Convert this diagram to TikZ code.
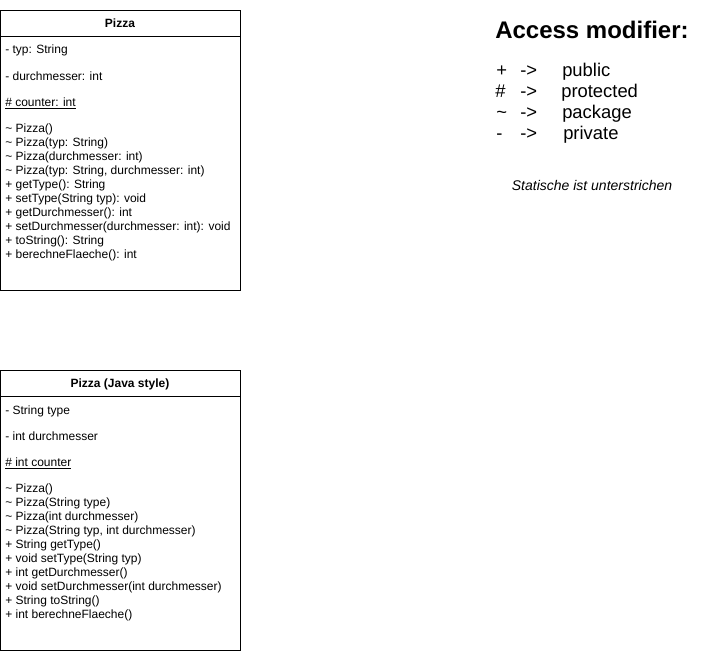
\documentclass[tikz,border=0pt]{standalone}
\usepackage{fontspec}
\setmainfont{Liberation Sans}
\begin{document}
\begin{tikzpicture}[x=0.75pt,y=-0.75pt,
                    classBX/.style={draw=black,
                                    line width=0.75pt},
                    memND/.style={anchor=base west,
                                  inner sep=0pt,
                                  font=\fontsize{9}{11}\selectfont},
                    headND/.style={anchor=base,
                                   inner sep=0pt,
                                   font=\fontsize{9}{11}\selectfont\bfseries},
                    keyND/.style={anchor=base west,
                                  inner sep=0pt,
                                  font=\fontsize{13.8}{16}\selectfont}]
                \useasboundingbox (0,0) rectangle (701,653);
                % class Pizza
                \draw[classBX] (0.5,10) rectangle (240,290);
                \draw[classBX] (0.5,36) -- (240,36);
                \node[headND](pHead) at (120,27.5) {Pizza};
                \node[memND](pTyp) at (5,54)  {- typ: String};
                \node[memND](pDm)  at (5,80)  {- durchmesser: int};
                \node[memND](pCnt) at (5,106) {\underline{\# counter: int}};
                \node[memND](pM1)  at (5,132) {\textasciitilde{} Pizza()};
                \node[memND](pM2)  at (5,146) {\textasciitilde{} Pizza(typ: String)};
                \node[memND](pM3)  at (5,160) {\textasciitilde{} Pizza(durchmesser: int)};
                \node[memND](pM4)  at (5,174) {\textasciitilde{} Pizza(typ: String, durchmesser: int)};
                \node[memND](pM5)  at (5,188) {+ getType(): String};
                \node[memND](pM6)  at (5,202) {+ setType(String typ): void};
                \node[memND](pM7)  at (5,216) {+ getDurchmesser(): int};
                \node[memND](pM8)  at (5,230) {+ setDurchmesser(durchmesser: int): void};
                \node[memND](pM9)  at (5,244) {+ toString(): String};
                \node[memND](pM10) at (5,258) {+ berechneFlaeche(): int};
                % class Pizza (Java style)
                \draw[classBX] (0.5,370) rectangle (240,650);
                \draw[classBX] (0.5,396) -- (240,396);
                \node[headND](jHead) at (120,387.5) {Pizza (Java style)};
                \node[memND](jTyp) at (5,414) {- String type};
                \node[memND](jDm)  at (5,440) {- int durchmesser};
                \node[memND](jCnt) at (5,466) {\underline{\# int counter}};
                \node[memND](jM1)  at (5,492) {\textasciitilde{} Pizza()};
                \node[memND](jM2)  at (5,506) {\textasciitilde{} Pizza(String type)};
                \node[memND](jM3)  at (5,520) {\textasciitilde{} Pizza(int durchmesser)};
                \node[memND](jM4)  at (5,534) {\textasciitilde{} Pizza(String typ, int durchmesser)};
                \node[memND](jM5)  at (5,548) {+ String getType()};
                \node[memND](jM6)  at (5,562) {+ void setType(String typ)};
                \node[memND](jM7)  at (5,576) {+ int getDurchmesser()};
                \node[memND](jM8)  at (5,590) {+ void setDurchmesser(int durchmesser)};
                \node[memND](jM9)  at (5,604) {+ String toString()};
                \node[memND](jM10) at (5,618) {+ int berechneFlaeche()};
                % legend
                \node[anchor=base west, inner sep=0pt,
                      font=\fontsize{18}{21}\selectfont\bfseries](aTitle) at (495,38) {Access modifier:};
                \node[keyND](kPub)  at (496,76)  {+};
                \node[keyND](aPub)  at (520,76)  {->};
                \node[keyND](wPub)  at (562,76)  {public};
                \node[keyND](kPro)  at (495,97)  {\#};
                \node[keyND](aPro)  at (520,97)  {->};
                \node[keyND](wPro)  at (561,97)  {protected};
                \node[keyND](kPac)  at (496,118) {\textasciitilde};
                \node[keyND](aPac)  at (520,118) {->};
                \node[keyND](wPac)  at (562,118) {package};
                \node[keyND](kPri)  at (496,139) {-};
                \node[keyND](aPri)  at (520,139) {->};
                \node[keyND](wPri)  at (563,139) {private};
                \node[anchor=base, inner sep=0pt,
                      font=\fontsize{10.5}{12}\selectfont\itshape](sNote) at (592,190) {Statische ist unterstrichen};
            \end{tikzpicture}
\end{document}
